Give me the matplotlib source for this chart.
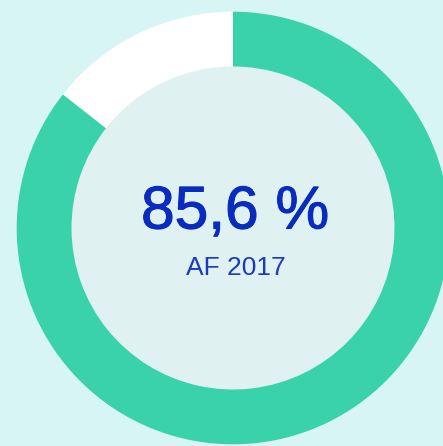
import matplotlib
matplotlib.use("Agg")
import matplotlib.pyplot as plt
from matplotlib.patches import Circle
import matplotlib.patheffects as pe

values = [85.6, 14.4]
colors = ["#3ad2aa", "#ffffff"]
main_label = "85,6 %"
sub_label = "AF 2017"

W, H = 443, 446
fig = plt.figure(figsize=(W / 100, H / 100), dpi=100)
fig.patch.set_facecolor("#d7f5f5")
ax = fig.add_axes([0, 0, 1, 1])
ax.set_facecolor("#d7f5f5")
ax.set_xlim(0, W)
ax.set_ylim(0, H)
ax.set_aspect("equal")
ax.axis("off")

cx, cy = 233, H - 228
R_out, R_in = 216.3, 161.5

ax.add_patch(Circle((cx, cy), R_in, facecolor="#e0f1f2", edgecolor="none", zorder=0))
ax.pie(values, colors=colors, startangle=90, counterclock=False, center=(cx, cy),
       radius=R_out, wedgeprops=dict(width=R_out - R_in, edgecolor="none", linewidth=0),
       frame=True)
ax.set_xlim(0, W)
ax.set_ylim(0, H)
ax.axis("off")

main_color = "#0a2cbd"
ax.text(cx + 2, H - 213, main_label, ha="center", va="center", fontsize=43.5,
        family="Liberation Sans", color=main_color, fontweight="normal",
        path_effects=[pe.withStroke(linewidth=0.8, foreground=main_color)])
ax.text(cx + 3, H - 268, sub_label, ha="center", va="center", fontsize=19,
        family="Liberation Sans", color="#1a3bc0")

fig.savefig("out.png", dpi=100, facecolor=fig.get_facecolor())
